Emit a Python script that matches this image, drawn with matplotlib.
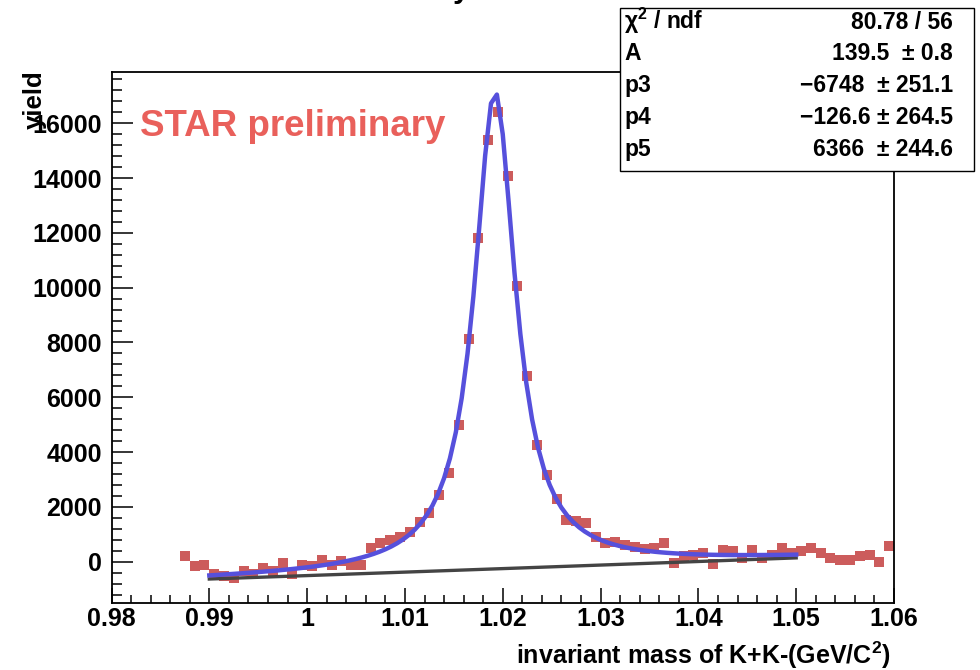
import numpy as np
import matplotlib
matplotlib.use("Agg")
import matplotlib.pyplot as plt
from matplotlib.patches import Rectangle
from matplotlib.ticker import MultipleLocator

plt.rcParams['font.family'] = ['Liberation Sans', 'DejaVu Sans']
plt.rcParams['font.weight'] = 'bold'
plt.rcParams['mathtext.fontset'] = 'custom'
plt.rcParams['mathtext.rm'] = 'Liberation Sans:bold'
plt.rcParams['mathtext.bf'] = 'Liberation Sans:bold'
plt.rcParams['mathtext.default'] = 'bf'

# histogram: 0.001 GeV bins, first bin centre 0.9875
bin_width = 0.001
first_center = 0.9875
yields = [220, -170, -120, -440, -510, -590, -330, -440, -230, -330,
          -50, -440, -110, -170, 70, -110, 40, -110, -110, 510,
          690, 800, 910, 1100, 1460, 1790, 2450, 3250, 5000, 8110,
          11800, 15380, 16400, 14060, 10050, 6780, 4270, 3180, 2290, 1530,
          1500, 1420, 900, 690, 730, 620, 550, 450, 480, 680,
          -50, 190, 260, 320, -70, 410, 380, 130, 440, 130,
          260, 500, 320, 380, 500, 320, 130, 70, 70, 190,
          260, -20, 580]
mass = first_center + bin_width * np.arange(len(yields))

# fit: Breit-Wigner + pol2 background
A = 139.5
p3, p4, p5 = -6748.0, -126.6, 6366.0
M0 = 1.0192
gamma = 0.0051
fit_lo, fit_hi = 0.99, 1.05

stat_labels = ["χ$^2$ / ndf", "A", "p3", "p4", "p5"]
stat_values = ["80.78 / 56", "139.5  ± 0.8", "−6748  ± 251.1", "−126.6 ± 264.5", "6366  ± 244.6"]

def bkg(x):
    return p3 + p4 * x + p5 * x ** 2

def bw(x):
    return A * (gamma / (2 * np.pi)) / ((x - M0) ** 2 + gamma ** 2 / 4)

fig = plt.figure(figsize=(9.8, 6.7), dpi=100)
ax = fig.add_axes([111.5 / 980, 1 - 603.3 / 670, (894 - 111.5) / 980, (603.3 - 71.7) / 670])

ax.plot(mass, yields, 's', color='#cc5c5c', markersize=7.6, markeredgewidth=0, zorder=2)

xf = np.linspace(fit_lo, fit_hi, 101)
ax.plot(xf, bkg(xf), color='#444444', lw=2.4, zorder=3)
ax.plot(xf, bkg(xf) + bw(xf), color='#5650dc', lw=3.2, zorder=4)

ax.set_xlim(0.98, 1.06)
ax.set_ylim(-1520, 17880)
ax.xaxis.set_major_locator(MultipleLocator(0.01))
ax.xaxis.set_minor_locator(MultipleLocator(0.002))
ax.yaxis.set_major_locator(MultipleLocator(2000))
ax.yaxis.set_minor_locator(MultipleLocator(400))
ax.xaxis.set_major_formatter(plt.FuncFormatter(lambda v, p: ("%.2f" % v).rstrip('0').rstrip('.')))

ax.tick_params(axis='both', which='both', direction='in', top=False, right=False,
               labelsize=18, width=1.1)
ax.tick_params(axis='y', which='major', length=15, pad=7)
ax.tick_params(axis='y', which='minor', length=7.5)
ax.tick_params(axis='x', which='major', length=11, pad=3)
ax.tick_params(axis='x', which='minor', length=5.5)
for lbl in ax.get_xticklabels() + ax.get_yticklabels():
    lbl.set_fontweight('bold')
for s in ax.spines.values():
    s.set_linewidth(1.3)

fig.text(140 / 980, 1 - 127 / 670, "STAR preliminary", color='#e9605b',
         fontsize=26.5, fontweight='bold', ha='left', va='center')

fig.text(35 / 980, 1 - 70 / 670, "yield", rotation=90, fontsize=18.5,
         fontweight='bold', ha='center', va='top')
fig.text(891 / 980, 1 - 655 / 670, "invariant mass of K+K-(GeV/C$^2$)", fontsize=18,
         fontweight='bold', ha='right', va='center')

# cut-off title at the top
fig.text(461 / 980, 1.0 + 3 / 670, "y", fontsize=22, fontweight='bold', ha='center', va='baseline')

# stats box
box = Rectangle((620 / 980, 1 - 171 / 670), (974 - 620) / 980, (171 - 8) / 670,
                transform=fig.transFigure, facecolor='white', edgecolor='black',
                linewidth=1.0, zorder=5)
fig.add_artist(box)
baselines = [29, 60, 92, 124, 156]
for lab, val, b in zip(stat_labels, stat_values, baselines):
    fig.text(624 / 980, 1 - b / 670, lab, fontsize=16.5, fontweight='bold',
             ha='left', va='baseline', zorder=6)
    fig.text(953 / 980, 1 - b / 670, val, fontsize=16.5, fontweight='bold',
             ha='right', va='baseline', zorder=6)

fig.savefig("out.png", dpi=100)
